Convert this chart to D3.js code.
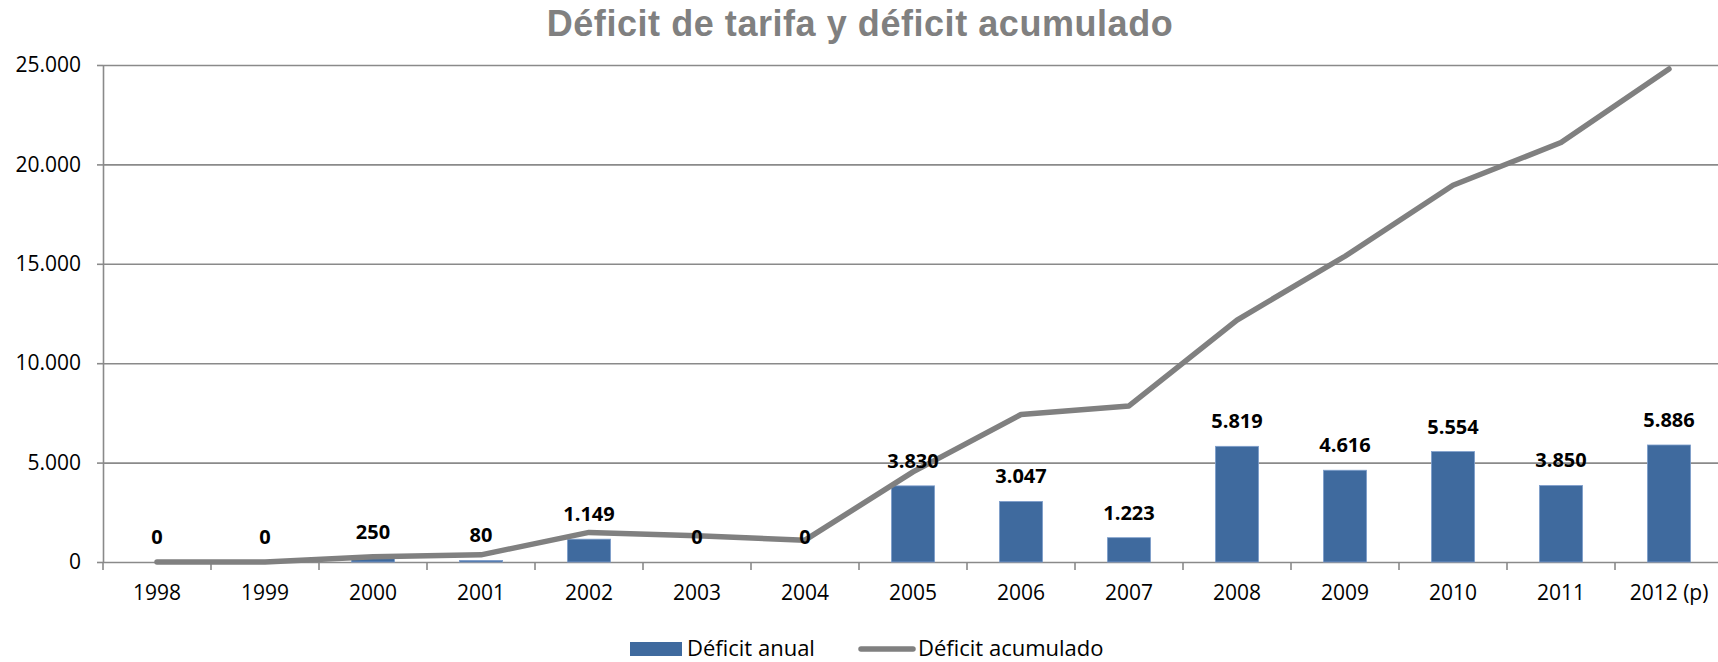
<!DOCTYPE html>
<html>
<head>
<meta charset="utf-8">
<script src="https://cdn.jsdelivr.net/npm/d3@7"></script>
<style>
  html, body { margin: 0; padding: 0; background: #fff; }
  svg { display: block; }
</style>
</head>
<body>
<div id="chart"></div>
<script>
// datos
var years = ["1998", "1999", "2000", "2001", "2002", "2003", "2004", "2005",
             "2006", "2007", "2008", "2009", "2010", "2011", "2012 (p)"];
var deficitAnual = [0, 0, 250, 80, 1149, 0, 0, 3830, 3047, 1223, 5819, 4616, 5554, 3850, 5886];
var deficitAcumulado = [0, 0, 260, 360, 1490, 1320, 1100, 4530, 7420, 7850, 12170, 15380, 18950, 21100, 24800];
var yTicks = [0, 5000, 10000, 15000, 20000, 25000];

var W = 1718, H = 662;
// el area del grafico se sale un poco por la derecha, como en el original
var m = {top: 65, right: -5, bottom: 100, left: 103};

var es = d3.formatLocale({decimal: ",", thousands: ".", grouping: [3], currency: ["", " €"]});
var fmt = es.format(",d");

var barColor = "#3f6a9e", lineColor = "#808080", gridColor = "#8a8a8a";
var txtFont = "'Open Sans', 'Noto Sans', sans-serif";

var svg = d3.select("#chart").append("svg")
    .attr("width", W)
    .attr("height", H);

var x = d3.scaleBand()
    .domain(years)
    .range([m.left, W - m.right])
    .paddingInner(0.6)
    .paddingOuter(0.3);

var y = d3.scaleLinear()
    .domain([0, 25000])
    .range([H - m.bottom, m.top]);

// titulo
svg.append("text")
    .attr("x", 860)
    .attr("y", 36)
    .attr("text-anchor", "middle")
    .style("font-family", "'Liberation Sans', Arial, sans-serif")
    .style("font-weight", "bold")
    .style("font-size", "36px")
    .style("letter-spacing", "0.55px")
    .style("fill", "#808080")
    .text("Déficit de tarifa y déficit acumulado");

// lineas de rejilla
var grid = svg.append("g")
    .attr("transform", "translate(" + m.left + ",0)")
    .call(d3.axisLeft(y).tickValues(yTicks).tickSize(-(W - m.left)).tickFormat(""));
grid.select(".domain").remove();
grid.selectAll("line").attr("stroke", gridColor).attr("stroke-width", 1.6);

// eje y con etiquetas
var yAxis = svg.append("g")
    .attr("transform", "translate(" + m.left + ",0)")
    .call(d3.axisLeft(y).tickValues(yTicks).tickSizeInner(6).tickSizeOuter(0).tickPadding(16).tickFormat(fmt));
yAxis.select(".domain").attr("stroke", gridColor).attr("stroke-width", 1.6);
yAxis.selectAll("line").attr("stroke", gridColor).attr("stroke-width", 1.6);
yAxis.selectAll("text")
    .style("font-family", txtFont)
    .style("font-size", "21px")
    .style("fill", "#000");

// eje x: etiquetas centradas, marcas entre categorias
var xAxis = svg.append("g")
    .attr("transform", "translate(0," + y(0) + ")")
    .call(d3.axisBottom(x).tickSize(0));
xAxis.select(".domain").remove();
xAxis.selectAll("text")
    .attr("y", 38)
    .attr("dy", 0)
    .style("font-family", txtFont)
    .style("font-size", "21px")
    .style("fill", "#000");

var half = x.step() * x.paddingInner() / 2;
var bounds = years.map(function(d) { return x(d) - half; });
bounds.push(x(years[years.length - 1]) + x.bandwidth() + half);

svg.append("g").selectAll("line")
    .data(bounds)
    .enter().append("line")
    .attr("x1", function(d) { return d; })
    .attr("x2", function(d) { return d; })
    .attr("y1", y(0))
    .attr("y2", y(0) + 8)
    .attr("stroke", gridColor)
    .attr("stroke-width", 1.6);

// barras
svg.append("g").selectAll("rect")
    .data(deficitAnual)
    .enter().append("rect")
    .attr("x", function(d, i) { return x(years[i]); })
    .attr("y", function(d) { return y(d); })
    .attr("width", x.bandwidth())
    .attr("height", function(d) { return y(0) - y(d); })
    .attr("fill", barColor)
    .attr("stroke", "#7f9fcc")
    .attr("stroke-width", 0.8);

// linea acumulada
var line = d3.line()
    .x(function(d, i) { return x(years[i]) + x.bandwidth() / 2; })
    .y(function(d) { return y(d); });

svg.append("path")
    .datum(deficitAcumulado)
    .attr("d", line)
    .attr("fill", "none")
    .attr("stroke", lineColor)
    .attr("stroke-width", 5.5)
    .attr("stroke-linejoin", "round")
    .attr("stroke-linecap", "round");

// etiquetas de datos
svg.append("g").selectAll("text")
    .data(deficitAnual)
    .enter().append("text")
    .attr("x", function(d, i) { return x(years[i]) + x.bandwidth() / 2; })
    .attr("y", function(d) { return y(d) - 18; })
    .attr("text-anchor", "middle")
    .style("font-family", txtFont)
    .style("font-weight", "bold")
    .style("font-size", "20px")
    .style("fill", "#000")
    .text(function(d) { return fmt(d); });

// leyenda
var leg = svg.append("g").attr("transform", "translate(630,656)");
leg.append("rect")
    .attr("x", 0).attr("y", -14)
    .attr("width", 52).attr("height", 14)
    .attr("fill", barColor);
leg.append("text")
    .attr("x", 57).attr("y", 0)
    .style("font-family", txtFont)
    .style("font-size", "22px")
    .text("Déficit anual");
leg.append("line")
    .attr("x1", 231).attr("x2", 283)
    .attr("y1", -7).attr("y2", -7)
    .attr("stroke", lineColor)
    .attr("stroke-width", 5.5)
    .attr("stroke-linecap", "round");
leg.append("text")
    .attr("x", 288).attr("y", 0)
    .style("font-family", txtFont)
    .style("font-size", "22px")
    .text("Déficit acumulado");
</script>
</body>
</html>
